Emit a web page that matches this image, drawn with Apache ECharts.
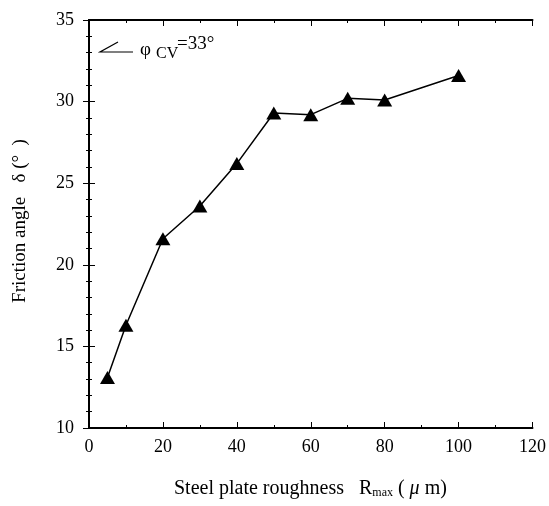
<!DOCTYPE html>
<html>
<head>
<meta charset="utf-8">
<script src="https://cdn.jsdelivr.net/npm/echarts@6/dist/echarts.min.js"></script>
<style>
html, body { margin: 0; padding: 0; background: #fff; }
#chart { width: 549px; height: 506px; }
</style>
</head>
<body>
<div id="chart"></div>
<script>
// 粗糙度 (μm)
var roughness = [5, 10, 20, 30, 40, 50, 60, 70, 80, 100];
// 摩擦角 δ (°)
var frictionAngle = [13.1, 16.3, 21.6, 23.6, 26.2, 29.3, 29.2, 30.2, 30.1, 31.6];
var xTicks = [0, 20, 40, 60, 80, 100, 120];
var yTicks = [10, 15, 20, 25, 30, 35];

var FONT = 'Liberation Serif';

var chart = echarts.init(document.getElementById('chart'));

function frameAxis(pos, isX, showLabel) {
	var ticks = isX ? xTicks : yTicks;
	return {
		type: 'value',
		position: pos,
		min: ticks[0],
		max: ticks[ticks.length - 1],
		interval: ticks[1] - ticks[0],
		axisLine: { show: true, lineStyle: { color: '#000', width: 2 } },
		axisTick: { show: true, inside: true, length: 6, lineStyle: { color: '#000', width: 1 } },
		minorTick: { show: true, splitNumber: isX ? 2 : 5, length: 3, lineStyle: { color: '#000', width: 1 } },
		splitLine: { show: false },
		axisLabel: {
			show: showLabel,
			color: '#000',
			fontFamily: FONT,
			fontSize: 18,
			margin: isX ? 10 : 15
		}
	};
}

function txt(x, y, s, size) {
	return {
		type: 'text',
		x: x,
		y: y,
		style: { text: s, fontFamily: FONT, fontSize: size, fill: '#000', verticalAlign: 'top' }
	};
}

var option = {
	animation: false,
	backgroundColor: '#fff',
	grid: { left: 89, right: 16, top: 20, bottom: 78 },
	xAxis: [frameAxis('bottom', true, true), frameAxis('top', true, false)],
	yAxis: [frameAxis('left', false, true), frameAxis('right', false, false)],
	series: [{
		type: 'line',
		data: roughness.map(function(x, i) { return [x, frictionAngle[i]]; }),
		symbol: 'triangle',
		symbolSize: [15, 13],
		itemStyle: { color: '#000' },
		lineStyle: { color: '#000', width: 1.5 }
	}],
	graphic: [
		// 左上角标注
		{
			type: 'polyline',
			shape: { points: [[118, 42], [100, 52], [133, 52]] },
			style: { stroke: '#000', lineWidth: 1.2, fill: null }
		},
		txt(140, 41, 'φ', 19),
		txt(156, 46, 'CV', 16),
		txt(177, 35, '=33°', 19),
		// x 轴标题
		{
			type: 'text',
			left: 174,
			top: 479,
			style: {
				text: '{a|Steel plate roughness   R}{s|max}{a| ( }{m|μ}{a| m)}',
				rich: {
					a: { fontFamily: FONT, fontSize: 20, fill: '#000' },
					s: { fontFamily: FONT, fontSize: 12, fill: '#000', padding: [8, 0, 0, 0] },
					m: { fontFamily: FONT, fontSize: 20, fontStyle: 'italic', fill: '#000' }
				}
			}
		},
		// y 轴标题
		{
			type: 'text',
			x: 20,
			y: 221,
			rotation: Math.PI / 2,
			style: {
				text: 'Friction angle   δ (°  )',
				fontFamily: FONT,
				fontSize: 19,
				fill: '#000',
				align: 'center',
				verticalAlign: 'middle'
			}
		}
	]
};

chart.setOption(option);
</script>
</body>
</html>
